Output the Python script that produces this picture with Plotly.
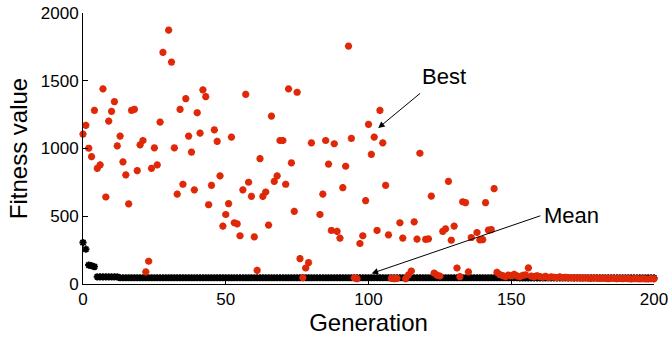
import plotly.graph_objects as go

# Best-individual fitness per generation
best_gen = [
    0, 1, 2, 3, 4, 5, 6, 7, 8, 9, 10, 11, 12, 13, 14, 15, 16, 17, 18, 19,
    20, 21, 22, 23, 24, 25, 26, 27, 28, 30, 31, 32, 33, 34, 35, 36, 37, 38, 39,
    40, 41, 42, 43, 44, 45, 46, 47, 48, 49, 50, 51, 52, 53, 54, 55, 56, 57, 58, 59,
    60, 61, 62, 63, 64, 65, 66, 67, 68, 69, 70, 71, 72, 73, 74, 75, 76, 77, 78, 79,
    80, 83, 84, 85, 86, 87, 88, 89, 90, 91, 92, 93, 94, 95, 96, 97, 98, 99,
    100, 101, 102, 103, 104, 105, 106, 107, 108, 109, 110, 111, 112, 113, 114, 115,
    116, 117, 118, 120, 121, 122, 123, 124, 125, 126, 127, 128, 129, 130, 131, 132,
    133, 134, 135, 136, 138, 139, 140, 141, 142, 143, 144, 145,
    146, 147, 148, 149, 150, 151, 152, 153, 154, 155, 156, 157, 158, 159, 160,
    161, 162, 163, 164, 165, 166, 167, 168, 169, 170, 171, 172, 173, 174, 175,
    176, 177, 178, 179, 180, 181, 182, 183, 184, 185, 186, 187, 188, 189, 190,
    191, 192, 193, 194, 195, 196, 197, 198, 199, 200,
]
best_val = [
    1106, 1170, 1002, 940, 1281, 854, 879, 1440, 642, 1202, 1274, 1346, 1020, 1091, 901, 805, 592, 1281, 1289, 837,
    1027, 1059, 89, 168, 854, 1005, 879, 1195, 1709, 1874, 1637, 1005, 664, 1289, 736, 1368, 1091, 973, 694,
    1264, 1114, 1432, 1383, 585, 728, 1138, 1052, 798, 427, 513, 593, 1084, 452, 444, 356, 694, 1400, 751, 647,
    348, 101, 926, 647, 679, 435, 1239, 758, 798, 1059, 1059, 736, 1440, 894, 536, 1415, 188, 47, 118, 158,
    1042, 513, 664, 1059, 884, 395, 1035, 388, 338, 711, 869, 1756, 1074, 45, 40, 299, 356, 615,
    1178, 956, 1084, 395, 1281, 1042, 728, 363, 42, 40, 42, 452, 338, 40, 67, 96,
    459, 331, 965, 330, 333, 649, 81, 65, 59, 388, 407, 758, 323, 427, 118, 54,
    607, 600, 89, 343, 380, 326, 328, 600, 398, 402, 704, 86,
    70, 62, 55, 66, 58, 72, 60, 54, 63, 68, 119, 58, 52, 61, 55,
    50, 57, 48, 53, 50, 46, 52, 47, 50, 45, 48, 44, 47, 45, 43,
    46, 44, 42, 45, 43, 41, 44, 42, 40, 43, 41, 40, 42, 39, 41,
    40, 38, 40, 39, 38, 40, 38, 37, 39, 38,
]

# Population mean fitness per generation (0..200)
mean_gen = list(range(0, 201))
mean_val = [
    306, 257, 140, 135, 128, 53, 52, 53, 52, 53, 52, 52, 53,
    46, 46, 46, 46, 46, 46, 46, 46, 46, 46, 46, 46, 46, 46, 46, 46, 46, 46, 46, 46,
    46, 46, 46, 46, 46, 46, 46, 46, 46, 46, 46, 46, 46, 46, 46, 46, 46, 46, 46, 46,
    46, 46, 46, 46, 46, 46, 46, 46, 46, 46, 46, 46, 46, 46, 46, 46, 46, 46, 46, 46,
    46, 46, 46, 46, 46, 46, 46, 46, 46, 46, 46, 46, 46, 46, 46, 46, 46, 46, 46, 46,
    46, 46, 46, 46, 46, 46, 46, 46, 46, 46, 46, 46, 46, 46, 46, 46, 46, 46, 46, 46,
    46, 46, 46, 46, 46, 46, 46, 46, 46, 46, 46, 46, 46, 46, 46, 46, 46, 46, 46, 46,
    46, 46, 46, 46, 46, 46, 46, 46, 46, 46, 46, 46, 46, 46, 46, 46, 46, 46, 46, 46,
    45, 45, 45, 45, 45, 45, 45, 45, 45, 45, 45, 45, 45, 45, 45, 45, 45, 45, 45, 45,
    45, 45, 45, 45, 45, 45, 45, 45, 45, 45, 45, 45, 45, 45, 45, 45, 45, 45, 45, 45,
    45, 45, 45, 45, 45, 45, 45, 45,
]

x_ticks = [0, 50, 100, 150, 200]
y_ticks = [0, 500, 1000, 1500, 2000]

FONT = "Liberation Sans, Arial, sans-serif"
RED = "rgb(222,40,8)"

fig = go.Figure()
fig.add_trace(go.Scatter(
    x=mean_gen, y=mean_val, mode="markers", name="Mean",
    marker=dict(symbol="asterisk-open", size=6, color="black",
                line=dict(color="black", width=1.9)),
    cliponaxis=False,
))
fig.add_trace(go.Scatter(
    x=best_gen, y=best_val, mode="markers", name="Best",
    marker=dict(symbol="asterisk-open", size=6, color=RED,
                line=dict(color=RED, width=2.3)),
    cliponaxis=False,
))

axis_common = dict(
    showline=True, linecolor="black", linewidth=1, mirror=False,
    ticks="inside", ticklen=5, tickcolor="black", tickwidth=1,
    showgrid=False, zeroline=False, automargin=False,
    ticklabeloverflow="allow",
    tickfont=dict(family=FONT, size=17, color="black"),
)

fig.update_layout(
    width=668, height=343,
    margin=dict(l=83, r=14, t=13, b=59),
    paper_bgcolor="white", plot_bgcolor="white",
    showlegend=False,
    font=dict(family=FONT, color="black"),
    xaxis=dict(range=[0, 200.001], tickvals=x_ticks, ticktext=[str(v) for v in x_ticks],
               title=dict(text="Generation", font=dict(family=FONT, size=24), standoff=4),
               **axis_common),
    yaxis=dict(range=[0, 2000.01], tickvals=y_ticks, ticktext=[str(v) for v in y_ticks],
               title=dict(text="Fitness value", font=dict(family=FONT, size=24), standoff=6),
               **axis_common),
)

# Labelled arrows pointing at each series
fig.add_annotation(x=103.4, y=1151, ax=118.6, ay=1416, xref="x", yref="y",
                   axref="x", ayref="y", text="", showarrow=True,
                   arrowhead=2, arrowsize=1.3, arrowwidth=1, arrowcolor="black")
fig.add_annotation(x=126.5, y=1535, xref="x", yref="y", text="Best", showarrow=False,
                   font=dict(family=FONT, size=22, color="black"))
fig.add_annotation(x=101.1, y=78, ax=160.7, ay=507, xref="x", yref="y",
                   axref="x", ayref="y", text="", showarrow=True,
                   arrowhead=2, arrowsize=1.3, arrowwidth=1, arrowcolor="black")
fig.add_annotation(x=160.7, y=507, xref="x", yref="y", text="Mean", showarrow=False,
                   xanchor="left", font=dict(family=FONT, size=22, color="black"))

fig.write_html("out.html")
